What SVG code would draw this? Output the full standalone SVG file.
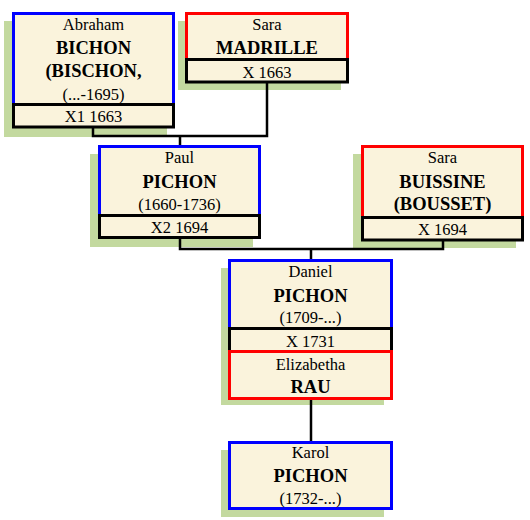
<svg xmlns="http://www.w3.org/2000/svg" width="530" height="520" viewBox="0 0 530 520">
<style>
.sh{fill:#c3d99f;stroke:none}
.m{fill:#faf3dc;stroke:#0000ff;stroke-width:3}
.f{fill:#faf3dc;stroke:#ff0000;stroke-width:3}
.x{fill:#faf3dc;stroke:#000;stroke-width:3}
.c{fill:none;stroke:#000;stroke-width:2.5}
text{font-family:"Liberation Serif","Times New Roman",serif;text-anchor:middle;fill:#000}
.n{font-size:16.5px}
.b{font-size:18.5px;font-weight:bold}
</style>
<rect width="530" height="520" fill="#fff"/>
<g id="shadows">
<rect class="sh" x="4" y="21" width="163" height="116"/>
<rect class="sh" x="178" y="21" width="163" height="69"/>
<rect class="sh" x="90" y="154" width="163" height="93"/>
<rect class="sh" x="353" y="154" width="163" height="94"/>
<rect class="sh" x="221" y="268" width="163" height="137"/>
<rect class="sh" x="221" y="450" width="163" height="67"/>
</g>
<g id="connectors">
<path class="c" d="M93,127 V136 H267 V82 M180,136 V146"/>
<path class="c" d="M180,237.5 V249 H443 V240 M311,249 V260"/>
<path class="c" d="M311,398.5 V442"/>
</g>
<g id="abraham">
<rect class="m" x="13.5" y="13.5" width="160" height="91"/>
<text class="n" x="93.5" y="30">Abraham</text>
<text class="b" x="93.5" y="54">BICHON</text>
<text class="b" x="93.5" y="77">(BISCHON,</text>
<text class="n" x="93.5" y="100">(...-1695)</text>
</g>
<g id="marriage1">
<rect class="x" x="13.5" y="104.5" width="160" height="22.5"/>
<text class="n" x="93.5" y="122">X1 1663</text>
</g>
<g id="sara-madrille">
<rect class="f" x="186.5" y="13.5" width="161" height="46"/>
<text class="n" x="267" y="30">Sara</text>
<text class="b" x="267" y="54">MADRILLE</text>
</g>
<g id="marriage-sara">
<rect class="x" x="186.5" y="59.5" width="161" height="22.5"/>
<text class="n" x="267" y="78">X 1663</text>
</g>
<g id="paul">
<rect class="m" x="99.5" y="146.5" width="160" height="69"/>
<text class="n" x="179.5" y="163">Paul</text>
<text class="b" x="179.5" y="188">PICHON</text>
<text class="n" x="179.5" y="210">(1660-1736)</text>
</g>
<g id="marriage2">
<rect class="x" x="99.5" y="215.5" width="160" height="22"/>
<text class="n" x="179.5" y="233">X2 1694</text>
</g>
<g id="sara-buissine">
<rect class="f" x="362.5" y="146.5" width="160" height="71"/>
<text class="n" x="442.5" y="163">Sara</text>
<text class="b" x="442.5" y="188">BUISSINE</text>
<text class="b" x="442.5" y="210">(BOUSSET)</text>
</g>
<g id="marriage-buissine">
<rect class="x" x="362.5" y="217.5" width="160" height="22.5"/>
<text class="n" x="442.5" y="235">X 1694</text>
</g>
<g id="daniel">
<rect class="m" x="229.5" y="260.5" width="162" height="68"/>
<text class="n" x="310.5" y="277">Daniel</text>
<text class="b" x="310.5" y="302">PICHON</text>
<text class="n" x="310.5" y="323">(1709-...)</text>
</g>
<g id="marriage3">
<rect class="x" x="229.5" y="328.5" width="162" height="23"/>
<text class="n" x="310.5" y="347">X 1731</text>
</g>
<g id="elizabetha">
<rect class="f" x="229.5" y="351.5" width="162" height="47"/>
<text class="n" x="310.5" y="370">Elizabetha</text>
<text class="b" x="310.5" y="393">RAU</text>
</g>
<g id="karol">
<rect class="m" x="229.5" y="442.5" width="162" height="66"/>
<text class="n" x="310.5" y="458">Karol</text>
<text class="b" x="310.5" y="482">PICHON</text>
<text class="n" x="310.5" y="504">(1732-...)</text>
</g>
</svg>
